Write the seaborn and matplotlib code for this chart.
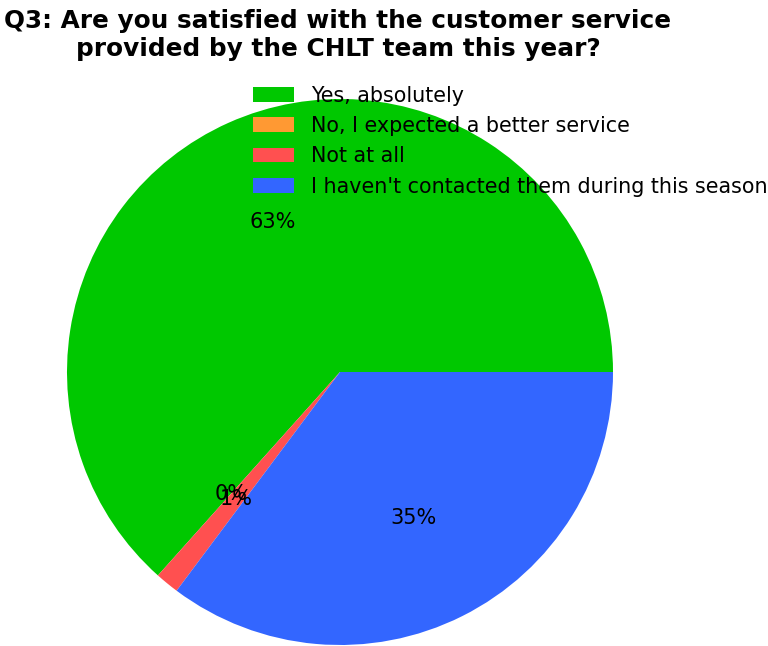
import matplotlib
matplotlib.use("Agg")
import matplotlib.pyplot as plt
import seaborn as sns

# Survey answers for Q3 (number of respondents)
answers = [
    "Yes, absolutely",
    "No, I expected a better service",
    "Not at all",
    "I haven't contacted them during this season",
]
counts = [45, 0, 1, 25]
colors = ["#00C800", "#FF9933", "#FF5050", "#3366FF"]

sns.set_style("white")
plt.rcParams["font.family"] = ["DejaVu Sans"]
plt.rcParams["text.color"] = "black"

W, H = 768, 646
fig = plt.figure(figsize=(W / 100, H / 100), dpi=100)

# square axes holding the pie (radius 273 px, centre at 340, 372)
cx, cy, r = 340, 372, 273
ax = fig.add_axes([(cx - r) / W, (H - cy - r) / H, 2 * r / W, 2 * r / H])

wedges, texts, autotexts = ax.pie(
    counts,
    colors=colors,
    autopct="%1.0f%%",
    startangle=0,
    pctdistance=0.6,
    wedgeprops={"linewidth": 0},
    textprops={"fontsize": 15, "color": "black"},
)
ax.set_xlim(-1, 1)
ax.set_ylim(-1, 1)
ax.set_aspect("equal")
ax.axis("off")

fig.suptitle(
    "Q3: Are you satisfied with the customer service\nprovided by the CHLT team this year?",
    fontsize=17.8,
    fontweight="bold",
    color="black",
    x=338 / W,
    y=1 - 9 / H,
    va="top",
    linespacing=1.2,
)

fig.legend(
    wedges,
    answers,
    loc="upper left",
    bbox_to_anchor=(234 / W, 1 - 67 / H),
    frameon=False,
    fontsize=14.9,
    labelspacing=0.5,
)

fig.savefig("out.png", dpi=100)
